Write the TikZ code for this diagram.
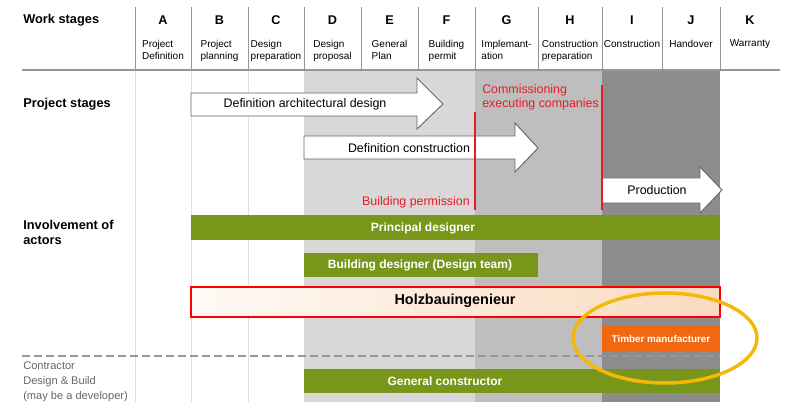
\documentclass[tikz,border=0pt]{standalone}
\usepackage{fontspec}
\setmainfont{Liberation Sans}
\usetikzlibrary{positioning}
\definecolor{barGreen}{RGB}{119,150,26}
\definecolor{shadeLight}{RGB}{216,216,216}
\definecolor{shadeMid}{RGB}{190,190,190}
\definecolor{shadeDark}{RGB}{140,140,140}
\definecolor{markRed}{RGB}{228,28,40}
\definecolor{timberOrange}{RGB}{240,104,18}
\definecolor{ringYellow}{RGB}{245,184,10}
\definecolor{gridGray}{RGB}{150,150,150}
\begin{document}
\begin{tikzpicture}[x=0.75pt,y=-0.75pt,
    every node/.style={inner sep=0pt},
    colletter/.style={font=\bfseries\fontsize{9.5}{11}\selectfont},
    coltext/.style={align=left, font=\fontsize{7.5}{9}\selectfont},
    sidelabel/.style={anchor=west, align=left, font=\bfseries\fontsize{9.6}{11.2}\selectfont},
    arrowtext/.style={font=\fontsize{9.3}{11}\selectfont},
    stagearrow/.style={draw=gray!80!black, fill=white, line width=0.7pt},
    redtext/.style={text=markRed, align=left, font=\fontsize{9.3}{10.6}\selectfont},
    bartext/.style={text=white, font=\bfseries\fontsize{9}{11}\selectfont}
  ]
\useasboundingbox (0,0) rectangle (790,402);

% shaded stages
\fill[shadeLight] (304,71) rectangle (475,402);
\fill[shadeMid] (475,71) rectangle (602,402);
\fill[shadeDark] (602,71) rectangle (720,402);
\foreach \x in {135,191,248}
  \draw[gray!25, line width=0.5pt] (\x,71) -- (\x,402);

% header
\foreach \x in {135,191,248,304,361,418,475,538,602,662,720}
  \draw[gridGray, line width=0.6pt] (\x,7) -- (\x,70);
\draw[gridGray, line width=1pt] (22,70) -- (780,70);
\node[sidelabel] (workstages) at (23,20) {Work stages};
\foreach \l/\a/\b/\t in {A/135/191/{Project\\Definition}, B/191/248/{Project\\planning},
    C/248/304/{Design\\preparation}, D/304/361/{Design\\proposal}, E/361/418/{General\\Plan},
    F/418/475/{Building\\permit}, G/475/538/{Implemant-\\ation}, H/538/602/{Construction\\preparation},
    I/602/662/{Construction\\\strut}, J/662/720/{Handover\\\strut}, K/720/780/{Warranty\\\strut}}
{
  \node[colletter] (col\l) at ({(\a+\b)/2},20) {\l};
  \node[coltext, anchor=north] (txt\l) at ({(\a+\b)/2},39.5) {\t};
}

% project stages
\node[sidelabel] (projstages) at (23,104) {Project stages};
\draw[stagearrow] (191,93) -- (417,93) -- (417,78) -- (443,104) -- (417,129) -- (417,116) -- (191,116) -- cycle;
\node[arrowtext] (archdesign) at (305,104) {Definition architectural design};
\draw[stagearrow] (304,136) -- (515,136) -- (515,123) -- (538,148) -- (515,172) -- (515,159) -- (304,159) -- cycle;
\node[arrowtext] (constrdef) at (409,148) {Definition construction};
\draw[stagearrow] (602,178) -- (700,178) -- (700,167) -- (722,190) -- (700,213) -- (700,203) -- (602,203) -- cycle;
\node[arrowtext] (production) at (657,190) {Production};

\draw[markRed, line width=1pt] (475,112) -- (475,210);
\draw[markRed, line width=1pt] (602,85) -- (602,210);
\node[redtext, anchor=west] (commission) at (482,97) {Commissioning\\executing companies};
\node[redtext, anchor=east] (permission) at (470,202) {Building permission};

% actors
\node[sidelabel] (actors) at (23,232) {Involvement of\\actors};
\fill[barGreen] (191,215) rectangle (720,240);
\node[bartext] (principal) at (423,228) {Principal designer};
\fill[barGreen] (304,253) rectangle (538,277);
\node[bartext] (designteam) at (420,265) {Building designer (Design team)};
\shade[left color=orange!4, right color={rgb,255:red,250;green,218;blue,190}] (191,287) rectangle (720,317);
\draw[red, line width=1.8pt] (191,287) rectangle (720,317);
\node[font=\bfseries\fontsize{10.8}{12}\selectfont] (holz) at (455,301) {Holzbauingenieur};
\fill[timberOrange] (602,326) rectangle (720,352);
\node[bartext, font=\bfseries\fontsize{7.4}{9}\selectfont] (timber) at (661,339) {Timber manufacturer};

\draw[gridGray, dashed, dash pattern=on 6pt off 3pt, line width=0.8pt] (22,356) -- (720,356);
\node[sidelabel, text=gray!80!black, font=\fontsize{8.3}{11.25}\selectfont] (contractor) at (23,382)
  {Contractor\\Design \& Build\\(may be a developer)};
\fill[barGreen] (304,369) rectangle (720,393);
\node[bartext] (general) at (445,381) {General constructor};

\draw[ringYellow, line width=2.6pt] (665,338) ellipse [x radius=92, y radius=45];
\end{tikzpicture}
\end{document}
